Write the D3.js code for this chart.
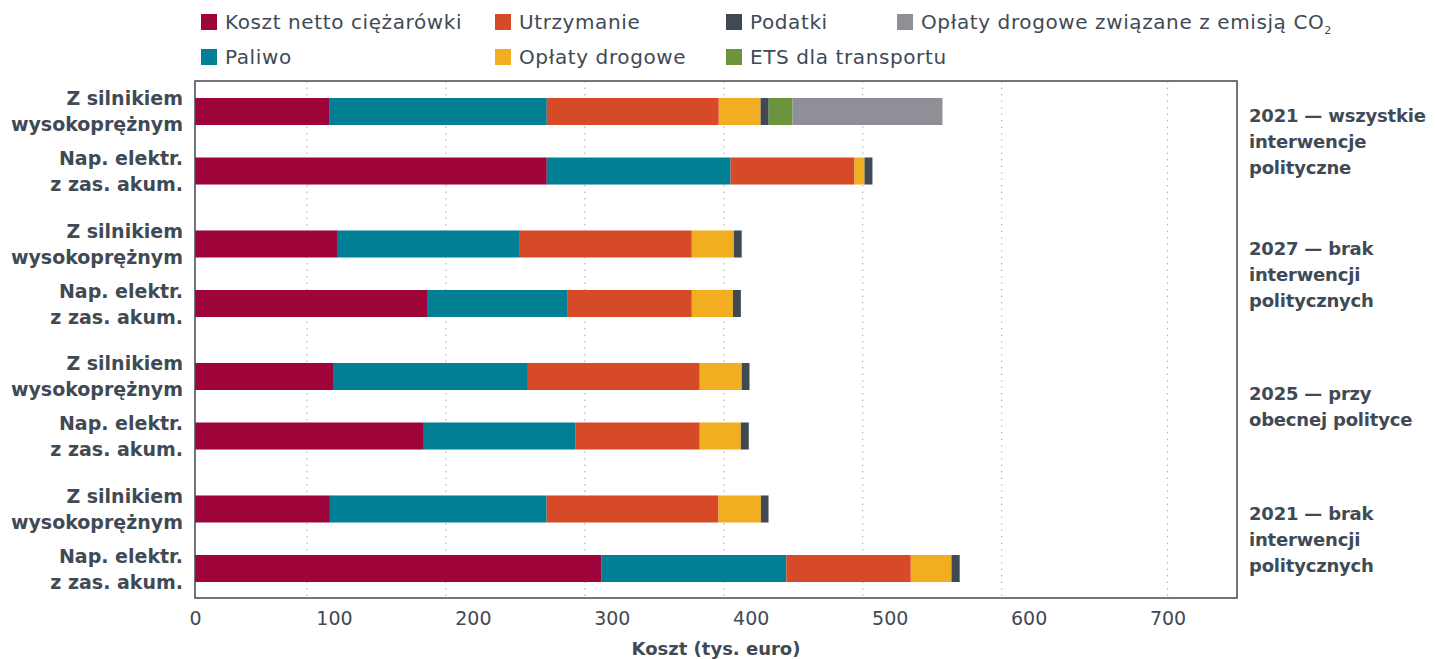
<!DOCTYPE html>
<html>
<head>
<meta charset="utf-8">
<script src="https://cdn.jsdelivr.net/npm/d3@7"></script>
<style>
  body { margin: 0; background: #fff; }
  text { font-family: "DejaVu Sans", sans-serif; fill: #3f4a55; }
</style>
</head>
<body>
<div class="plot"></div>
<script>
// Categories, series and labels
const groups = ["g2021all", "g2027", "g2025", "g2021none"];
const groupLabels = [
  ["2021 — wszystkie", "interwencje", "polityczne"],
  ["2027 — brak", "interwencji", "politycznych"],
  ["2025 — przy", "obecnej polityce"],
  ["2021 — brak", "interwencji", "politycznych"]
];
const vehicles = ["diesel", "ev"];
const vehicleLabels = [["Z silnikiem", "wysokoprężnym"], ["Nap. elektr.", "z zas. akum."]];

const seriesKeys = ["koszt", "paliwo", "utrzymanie", "oplaty", "podatki", "ets", "co2"];
const seriesNames = ["Koszt netto ciężarówki", "Paliwo", "Utrzymanie", "Opłaty drogowe", "Podatki", "ETS dla transportu", "Opłaty drogowe związane z emisją CO"];
const seriesColors = ["#9e0439", "#007f95", "#d64a28", "#f1ae20", "#3f4a55", "#6b943d", "#8f8f97"];

// values per row, in order of seriesKeys (tys. euro)
const koszt      = [97, 253.2, 102.2, 167, 99.9, 164.7, 97.1, 292.7];
const paliwo     = [156.2, 132.3, 131.6, 101.3, 139.7, 109.3, 156, 132.9];
const utrzymanie = [123.8, 89.2, 123.8, 89.3, 123.7, 89.3, 123.7, 89.6];
const oplaty     = [30.1, 7.2, 30.2, 29.6, 30.2, 29.6, 30.5, 29.3];
const podatki    = [5.8, 5.7, 5.7, 5.7, 5.6, 5.7, 5.5, 5.9];
const ets        = [17.2, 0, 0, 0, 0, 0, 0, 0];
const co2        = [107.9, 0, 0, 0, 0, 0, 0, 0];

const xTicks = [0, 100, 200, 300, 400, 500, 600, 700];
const gridLines = [80.6, 180.6, 280.6, 380.6, 480.6, 580.6, 700];

const rows = [];
groups.forEach((g, gi) => vehicles.forEach((v, vi) => {
  const i = gi * 2 + vi;
  rows.push({group: g, vehicle: v, koszt: koszt[i], paliwo: paliwo[i], utrzymanie: utrzymanie[i],
    oplaty: oplaty[i], podatki: podatki[i], ets: ets[i], co2: co2[i]});
}));

const W = 1436, H = 659;
const plot = {left: 195, right: 1237, top: 81, bottom: 598};

const svg = d3.select(".plot").append("svg")
  .attr("width", W).attr("height", H);

const x = d3.scaleLinear().domain([0, 750]).range([plot.left, plot.right]);
const yGroup = d3.scaleBand().domain(groups).range([75, 605]);
const yRow = d3.scaleBand().domain(vehicles).range([0, yGroup.bandwidth()])
  .paddingInner(0.546).paddingOuter(0.386);

// dotted gridlines
svg.append("g").selectAll("line")
  .data(gridLines).enter().append("line")
    .attr("x1", d => x(d)).attr("x2", d => x(d))
    .attr("y1", plot.top).attr("y2", plot.bottom)
    .attr("stroke", "#b8b8b8").attr("stroke-width", 1.2)
    .attr("stroke-dasharray", "1.5,5");

// stacked bars
const stack = d3.stack().keys(seriesKeys)(rows);
const color = d3.scaleOrdinal().domain(seriesKeys).range(seriesColors);

svg.append("g").selectAll("g")
  .data(stack).enter().append("g")
    .attr("fill", d => color(d.key))
  .selectAll("rect")
  .data(d => d).enter().append("rect")
    .attr("x", d => x(d[0]))
    .attr("width", d => x(d[1]) - x(d[0]))
    .attr("y", d => yGroup(d.data.group) + yRow(d.data.vehicle))
    .attr("height", yRow.bandwidth());

// frame
svg.append("rect")
  .attr("x", plot.left).attr("y", plot.top)
  .attr("width", plot.right - plot.left).attr("height", plot.bottom - plot.top)
  .attr("fill", "none").attr("stroke", "#3f4a55").attr("stroke-width", 1.5);

// x axis labels
const xAxis = d3.axisBottom(x).tickValues(xTicks).tickSize(0).tickPadding(14);
svg.append("g")
  .attr("transform", `translate(0,${plot.bottom})`)
  .call(xAxis)
  .call(g => g.select(".domain").remove())
  .selectAll("text")
    .style("font-family", "DejaVu Sans, sans-serif")
    .style("font-size", "19px")
    .attr("fill", "#3f4a55");

svg.append("text")
  .attr("x", (plot.left + plot.right) / 2).attr("y", 655)
  .attr("text-anchor", "middle")
  .style("font-size", "18px").style("font-weight", "bold")
  .text("Koszt (tys. euro)");

// row labels (left)
const rowLab = svg.append("g").selectAll("text")
  .data(rows).enter().append("text")
    .attr("text-anchor", "end")
    .style("font-size", "19px").style("font-weight", "bold")
    .attr("transform", d => `translate(183,${yGroup(d.group) + yRow(d.vehicle) + yRow.bandwidth() / 2})`);
rowLab.selectAll("tspan")
  .data(d => vehicleLabels[vehicles.indexOf(d.vehicle)])
  .enter().append("tspan")
    .attr("x", 0)
    .attr("y", (d, i) => i === 0 ? -6 : 20)
    .text(d => d);

// group labels (right)
const grpLab = svg.append("g").selectAll("text")
  .data(groups).enter().append("text")
    .style("font-size", "18px").style("font-weight", "bold")
    .style("letter-spacing", "-0.2px")
    .attr("transform", g => `translate(1249,${yGroup(g) + yGroup.bandwidth() / 2})`);
grpLab.selectAll("tspan")
  .data((g, gi) => groupLabels[gi].map((t, i, a) => ({t, i, n: a.length})))
  .enter().append("tspan")
    .attr("x", 0)
    .attr("y", d => (d.i - (d.n - 1) / 2) * 26 + 7)
    .text(d => d.t);

// legend
const legendPos = [
  {col: 0, row: 0}, {col: 0, row: 1}, {col: 1, row: 0}, {col: 1, row: 1},
  {col: 2, row: 0}, {col: 2, row: 1}, {col: 3, row: 0}
];
const legendCols = [201, 495, 726, 897];
const legendRows = [22, 57];
const legend = svg.append("g").selectAll("g")
  .data(seriesKeys).enter().append("g")
    .attr("transform", (d, i) => `translate(${legendCols[legendPos[i].col]},${legendRows[legendPos[i].row]})`);
legend.append("rect")
  .attr("x", 0).attr("y", -8).attr("width", 16).attr("height", 16)
  .attr("fill", d => color(d));
const legText = legend.append("text")
  .attr("x", 24).attr("y", 7)
  .style("font-size", "20px")
  .style("letter-spacing", "0.6px")
  .text((d, i) => seriesNames[i]);
legText.filter(d => d === "co2").append("tspan")
  .attr("dy", 5).style("font-size", "11px").text("2");
</script>
</body>
</html>
